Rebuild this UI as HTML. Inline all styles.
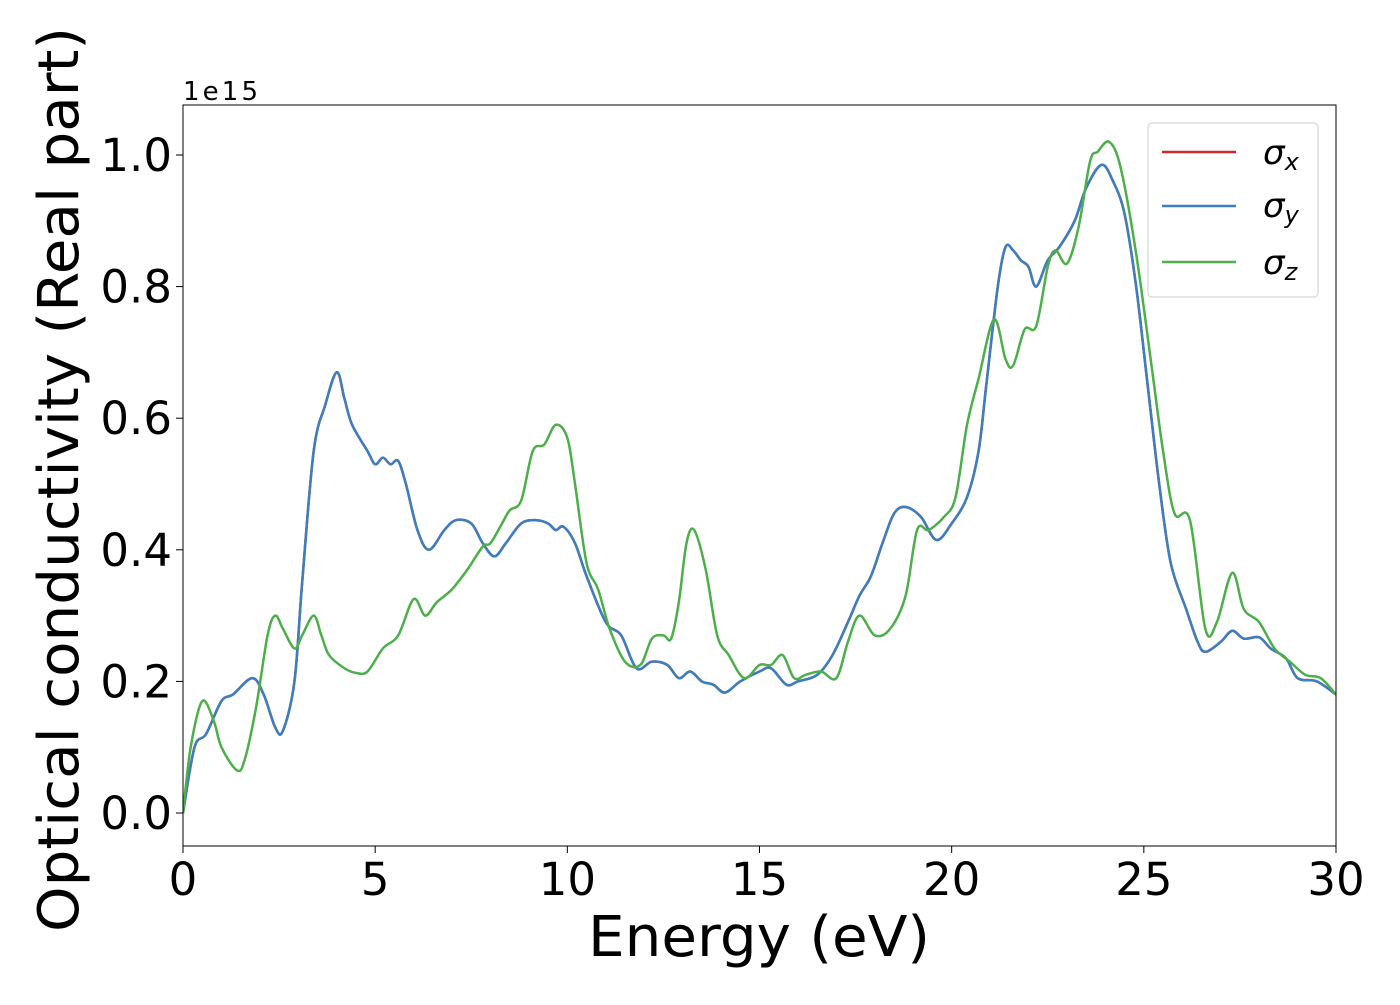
<!DOCTYPE html>
<html><head><meta charset="utf-8"><style>
body{margin:0;background:#fff;}
svg text{font-family:"DejaVu Sans","Liberation Sans",sans-serif;fill:#000;}
</style></head><body>
<svg id="chart" width="1400" height="1000" xmlns="http://www.w3.org/2000/svg" style="position:absolute;left:0;top:0">
<g id="plot"></g>
</svg>
<script>
const xTicks=[0,5,10,15,20,25,30];
const yTicks=[0.0,0.2,0.4,0.6,0.8,1.0];
const yTickLabels=["0.0","0.2","0.4","0.6","0.8","1.0"];
const energyXY=[0,0.3,0.6,1.0,1.3,1.8,2.1,2.4,2.6,2.9,3.1,3.4,3.7,4.0,4.2,4.4,4.8,5.0,5.2,5.4,5.6,5.8,6.1,6.4,6.8,7.1,7.5,7.8,8.1,8.4,8.8,9.2,9.5,9.7,9.9,10.2,10.5,11.0,11.4,11.8,12.2,12.6,12.9,13.2,13.5,13.8,14.1,14.5,15.0,15.3,15.7,16.0,16.5,16.9,17.3,17.6,17.9,18.2,18.5,18.8,19.2,19.6,20.0,20.4,20.7,20.9,21.2,21.4,21.6,21.8,22.0,22.2,22.5,22.8,23.2,23.5,23.9,24.2,24.5,24.8,25.1,25.4,25.7,26.1,26.4,26.6,27.0,27.3,27.6,28.0,28.3,28.7,29.0,29.5,30];
const sigmaX=[0,0.1,0.12,0.17,0.18,0.205,0.18,0.13,0.125,0.2,0.35,0.55,0.62,0.67,0.63,0.59,0.55,0.53,0.54,0.53,0.535,0.5,0.43,0.40,0.43,0.445,0.44,0.41,0.39,0.41,0.44,0.445,0.44,0.43,0.435,0.41,0.36,0.29,0.27,0.22,0.23,0.225,0.205,0.215,0.20,0.195,0.183,0.20,0.215,0.22,0.195,0.20,0.21,0.24,0.29,0.33,0.36,0.41,0.455,0.465,0.45,0.415,0.44,0.48,0.55,0.65,0.80,0.86,0.855,0.84,0.83,0.80,0.84,0.86,0.90,0.95,0.985,0.96,0.91,0.8,0.65,0.5,0.38,0.31,0.26,0.245,0.26,0.277,0.265,0.267,0.25,0.235,0.205,0.20,0.18];
const sigmaY=sigmaX.slice();
const energyZ=[0,0.2,0.5,0.8,1.0,1.4,1.6,1.9,2.2,2.4,2.6,2.9,3.1,3.4,3.6,3.8,4.2,4.5,4.8,5.2,5.6,6.0,6.3,6.6,7.0,7.4,7.8,8.0,8.3,8.5,8.8,9.1,9.4,9.7,10.0,10.2,10.5,10.8,11.1,11.5,11.9,12.2,12.5,12.7,12.9,13.1,13.3,13.6,13.9,14.2,14.6,15.0,15.3,15.6,15.9,16.2,16.6,17.0,17.3,17.6,18.0,18.4,18.8,19.1,19.4,19.8,20.1,20.4,20.7,21.1,21.4,21.6,21.9,22.2,22.5,22.7,23.0,23.3,23.6,23.8,24.1,24.4,24.8,25.2,25.5,25.8,26.2,26.6,26.9,27.3,27.6,28.0,28.4,28.8,29.2,29.6,30];
const sigmaZ=[0,0.1,0.17,0.14,0.1,0.065,0.08,0.16,0.27,0.3,0.28,0.25,0.27,0.30,0.27,0.24,0.22,0.213,0.215,0.25,0.27,0.325,0.30,0.32,0.34,0.37,0.405,0.41,0.44,0.46,0.475,0.55,0.56,0.59,0.57,0.5,0.38,0.34,0.28,0.23,0.225,0.265,0.27,0.265,0.32,0.41,0.43,0.37,0.27,0.24,0.205,0.225,0.225,0.24,0.205,0.21,0.215,0.205,0.26,0.30,0.27,0.28,0.33,0.43,0.43,0.45,0.48,0.59,0.66,0.75,0.69,0.68,0.735,0.74,0.83,0.855,0.835,0.89,0.99,1.005,1.02,0.98,0.85,0.68,0.55,0.455,0.445,0.28,0.29,0.365,0.31,0.29,0.25,0.23,0.21,0.205,0.18];

const L=183,R=1336,T=105,B=846;
const xs=v=>L+(v-0)/30*(R-L);
const ys=v=>813-v*658;
const NS="http://www.w3.org/2000/svg";
const svg=document.getElementById('chart');
function mk(tag,attrs,parent){const e=document.createElementNS(NS,tag);for(const k in attrs)e.setAttribute(k,attrs[k]);(parent||svg).appendChild(e);return e;}
function smooth(xa,ya){const p=xa.map((x,i)=>[xs(x),ys(ya[i])]);let d=`M${p[0][0]},${p[0][1]}`;
for(let i=0;i<p.length-1;i++){const p0=p[Math.max(0,i-1)],p1=p[i],p2=p[i+1],p3=p[Math.min(p.length-1,i+2)];
const c1=[p1[0]+(p2[0]-p0[0])/6,p1[1]+(p2[1]-p0[1])/6],c2=[p2[0]-(p3[0]-p1[0])/6,p2[1]-(p3[1]-p1[1])/6];
d+=`C${c1[0]},${c1[1]} ${c2[0]},${c2[1]} ${p2[0]},${p2[1]}`;}return d;}
const clip=mk('clipPath',{id:'cp'});mk('rect',{x:L,y:T,width:R-L,height:B-T},clip);
const plot=document.getElementById('plot');plot.setAttribute('clip-path','url(#cp)');
const lr=mk('path',{d:smooth(energyXY,sigmaX),fill:'none',stroke:'#d62728',"stroke-width":2.5},plot);


const lb=mk('path',{d:smooth(energyXY,sigmaY),fill:'none',stroke:'#3a7fc1',"stroke-width":2.5},plot);


const lg=mk('path',{d:smooth(energyZ,sigmaZ),fill:'none',stroke:'#4daf4a',"stroke-width":2.5},plot);


const frame=mk('rect',{x:L,y:T,width:R-L,height:B-T,fill:'none',stroke:'#000',"stroke-width":1});


xTicks.forEach(v=>{mk('line',{x1:xs(v),x2:xs(v),y1:B,y2:B+7,stroke:'#000'});
const t=mk('text',{x:xs(v),y:895,"text-anchor":"middle","font-size":45});t.textContent=v;

});
yTicks.forEach((v,i)=>{mk('line',{x1:L-7,x2:L,y1:ys(v),y2:ys(v),stroke:'#000'});
const t=mk('text',{x:172,y:ys(v)+16,"text-anchor":"end","font-size":45});t.textContent=yTickLabels[i];

});
</script>
<div style="position:absolute;left:0;top:0;width:1400px;height:1000px;pointer-events:none">
<svg width="1400" height="1000" xmlns="http://www.w3.org/2000/svg">
<text x="183" y="100" font-size="26" textLength="75">1e15</text>
<text x="588" y="956" font-size="56" textLength="342" lengthAdjust="spacingAndGlyphs">Energy (eV)</text>
<text transform="translate(78,932) rotate(-90)" font-size="56" textLength="905" lengthAdjust="spacingAndGlyphs">Optical conductivity (Real part)</text>
<g>
<rect x="1148" y="123" width="170" height="174" rx="4" fill="#fff" fill-opacity="0.8" stroke="#ccc"/>
<g><line x1="1162" x2="1236" y1="152" y2="152" stroke="#d62728" stroke-width="2.5"/><text x="1263" y="164" font-size="34" font-style="italic">σ<tspan font-size="24" dy="6">x</tspan></text></g>
<g><line x1="1162" x2="1236" y1="206" y2="206" stroke="#3a7fc1" stroke-width="2.5"/><text x="1263" y="217" font-size="34" font-style="italic">σ<tspan font-size="24" dy="6">y</tspan></text></g>
<g><line x1="1162" x2="1236" y1="262" y2="262" stroke="#4daf4a" stroke-width="2.5"/><text x="1263" y="274" font-size="34" font-style="italic">σ<tspan font-size="24" dy="6">z</tspan></text></g>
</g>
</svg></div>
</body></html>
